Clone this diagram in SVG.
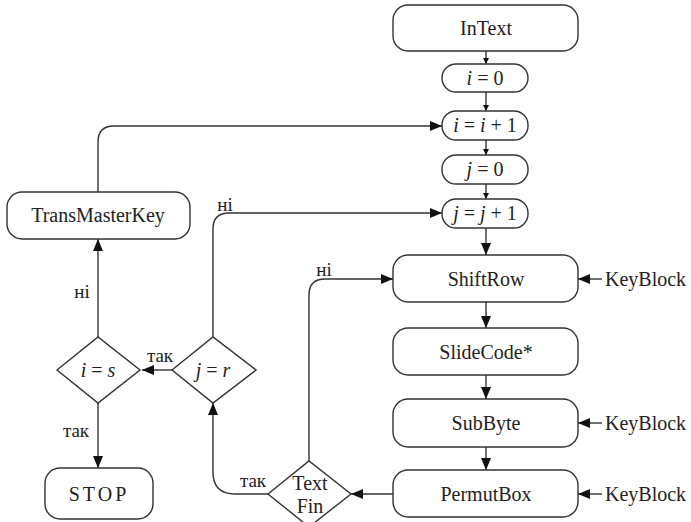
<svg xmlns="http://www.w3.org/2000/svg" width="691" height="522" viewBox="0 0 691 522">
<style>
.b{fill:#fff;stroke:#333;stroke-width:1.4}
.c{fill:none;stroke:#333;stroke-width:1.4}
text{font-family:'Liberation Serif','Times New Roman','DejaVu Serif',serif}
.t{font-size:20px;fill:#222;text-anchor:middle}
.l{font-size:19px;fill:#222;text-anchor:middle}
.i{font-style:italic}
</style>
<defs>
<marker id="a" viewBox="0 0 12 10" refX="12" refY="5" markerWidth="12" markerHeight="10" markerUnits="userSpaceOnUse" orient="auto"><path d="M0,0L12,5L0,10z" fill="#111"/></marker>
<marker id="s" viewBox="0 0 6 6" refX="6" refY="3" markerWidth="6" markerHeight="6" markerUnits="userSpaceOnUse" orient="auto"><path d="M0,0L6,3L0,6z" fill="#111"/></marker>
</defs>
<g id="connectors">
<path class="c" d="M486,50V64" marker-end="url(#s)"/>
<path class="c" d="M486,92V111" marker-end="url(#s)"/>
<path class="c" d="M486,140V155" marker-end="url(#s)"/>
<path class="c" d="M486,184V199" marker-end="url(#s)"/>
<path class="c" d="M486,228V255" marker-end="url(#a)"/>
<path class="c" d="M486,302V328" marker-end="url(#a)"/>
<path class="c" d="M486,375V399" marker-end="url(#a)"/>
<path class="c" d="M486,447V470" marker-end="url(#a)"/>
<path class="c" d="M602,279H578" marker-end="url(#a)"/>
<path class="c" d="M602,423H578" marker-end="url(#a)"/>
<path class="c" d="M602,494H578" marker-end="url(#a)"/>
<path class="c" d="M98,192V142Q98,126 114,126H442" marker-end="url(#a)"/>
<path class="c" d="M213,337V229Q213,213 229,213H442" marker-end="url(#a)"/>
<path class="c" d="M98,337V239" marker-end="url(#a)"/>
<path class="c" d="M172,370H142" marker-end="url(#a)"/>
<path class="c" d="M98,403V468" marker-end="url(#a)"/>
<path class="c" d="M393,494H351" marker-end="url(#a)"/>
<path class="c" d="M268,494H235Q213,494 213,472V403" marker-end="url(#a)"/>
<path class="c" d="M309,461V295Q309,279 325,279H393" marker-end="url(#a)"/>
</g>
<g id="labels">
<text class="l" x="225" y="211">ні</text>
<text class="l" x="82" y="298">ні</text>
<text class="l" x="160" y="362">так</text>
<text class="l" x="76" y="437">так</text>
<text class="l" x="253" y="487">так</text>
<text class="l" x="324" y="276">ні</text>
</g>
<g id="InText"><rect class="b" x="393" y="5" width="185" height="46" rx="15"/><text class="t" x="486" y="35">InText</text></g>
<g id="i0"><rect class="b" x="442" y="64" width="86" height="28" rx="14"/><text class="t" x="485" y="85"><tspan class="i">i</tspan> = 0</text></g>
<g id="ii1"><rect class="b" x="442" y="111" width="86" height="29" rx="14"/><text class="t" x="485" y="132"><tspan class="i">i</tspan> = <tspan class="i">i</tspan> + 1</text></g>
<g id="j0"><rect class="b" x="442" y="155" width="86" height="29" rx="14"/><text class="t" x="485" y="176"><tspan class="i">j</tspan> = 0</text></g>
<g id="jj1"><rect class="b" x="442" y="199" width="86" height="29" rx="14"/><text class="t" x="485" y="220"><tspan class="i">j</tspan> = <tspan class="i">j</tspan> + 1</text></g>
<g id="ShiftRow"><rect class="b" x="393" y="255" width="185" height="47" rx="15"/><text class="t" x="486" y="286">ShiftRow</text></g>
<g id="SlideCode"><rect class="b" x="393" y="328" width="185" height="47" rx="15"/><text class="t" x="486" y="359">SlideCode*</text></g>
<g id="SubByte"><rect class="b" x="393" y="399" width="185" height="48" rx="15"/><text class="t" x="486" y="430">SubByte</text></g>
<g id="PermutBox"><rect class="b" x="393" y="470" width="185" height="47" rx="15"/><text class="t" x="486" y="501">PermutBox</text></g>
<g id="KeyBlock1"><text class="t" x="605" y="286" style="text-anchor:start">KeyBlock</text></g>
<g id="KeyBlock2"><text class="t" x="605" y="430" style="text-anchor:start">KeyBlock</text></g>
<g id="KeyBlock3"><text class="t" x="605" y="501" style="text-anchor:start">KeyBlock</text></g>
<g id="TransMasterKey"><rect class="b" x="7" y="192" width="183" height="47" rx="15"/><text class="t" x="98" y="222">TransMasterKey</text></g>
<g id="ieqs"><path class="b" d="M57,370L98,337L140,370L98,403z"/><text class="t" x="98" y="377"><tspan class="i">i</tspan> = <tspan class="i">s</tspan></text></g>
<g id="jeqr"><path class="b" d="M172,370L213,337L256,370L213,403z"/><text class="t" x="213" y="377"><tspan class="i">j</tspan> = <tspan class="i">r</tspan></text></g>
<g id="STOP"><rect class="b" x="45" y="468" width="108" height="51" rx="15"/><text class="t" x="99" y="501" style="letter-spacing:3px">STOP</text></g>
<g id="TextFin"><path class="b" d="M268,494L309,461L351,494L309,527z"/><text class="t" x="310" y="490">Text</text><text class="t" x="310" y="513">Fin</text></g>
</svg>
